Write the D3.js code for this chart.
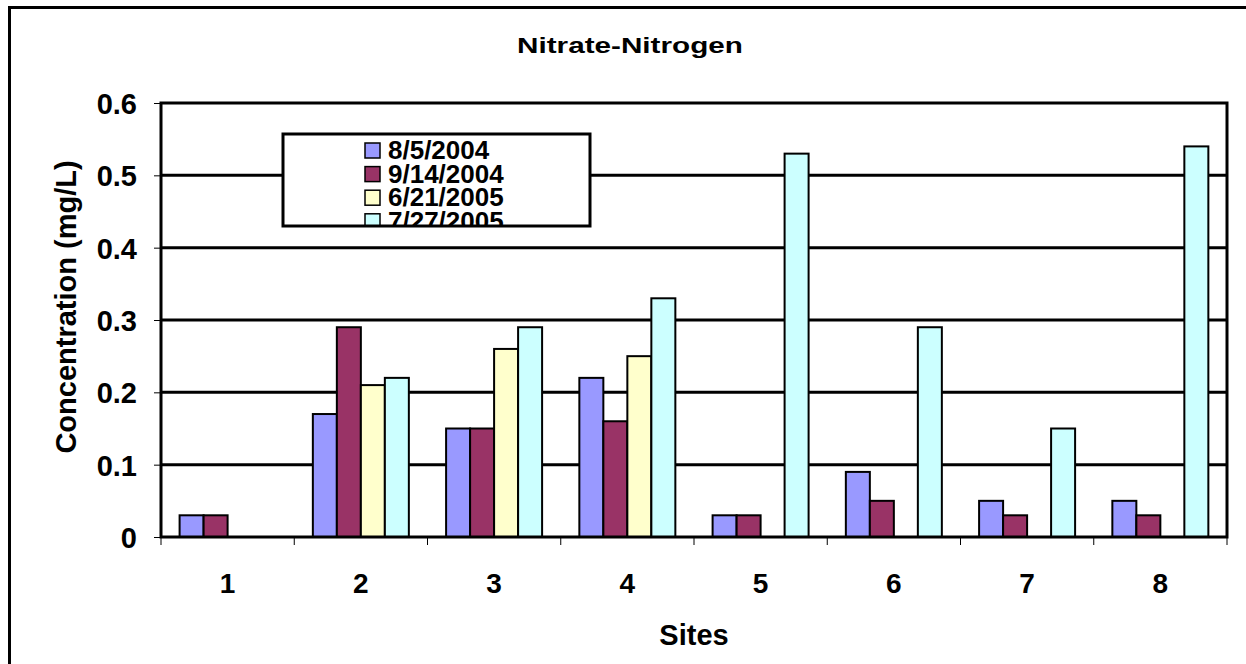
<!DOCTYPE html>
<html><head><meta charset="utf-8">
<script src="https://cdn.jsdelivr.net/npm/d3@7"></script>
<style>body{margin:0;background:#fff}svg{display:block;font-family:Arial,"Liberation Sans",sans-serif}</style>
</head><body>
<script>
const sites = ["1","2","3","4","5","6","7","8"];
const seriesNames = ["8/5/2004","9/14/2004","6/21/2005","7/27/2005"];
const colors = ["#9999FF","#993366","#FFFFCC","#CCFFFF"];
const s1 = [0.03,0.17,0.15,0.22,0.03,0.09,0.05,0.05];
const s2 = [0.03,0.29,0.15,0.16,0.03,0.05,0.03,0.03];
const s3 = [null,0.21,0.26,0.25,null,null,null,null];
const s4 = [null,0.22,0.29,0.33,0.53,0.29,0.15,0.54];
const yTicks = [0,0.1,0.2,0.3,0.4,0.5,0.6];
const series = [s1,s2,s3,s4];

const W=1246,H=664;
const svg=d3.select("body").append("svg").attr("width",W).attr("height",H);
svg.append("rect").attr("x",9.5).attr("y",7.5).attr("width",1250).attr("height",700)
  .attr("fill","none").attr("stroke","#000").attr("stroke-width",3);

const L=161,R=1227,T=103,B=537;
const x=d3.scaleBand().domain(sites).range([L,R]).paddingInner(0).paddingOuter(0);
const inner=d3.scaleBand().domain(d3.range(4)).range([18.6,18.6+96]);
const y=d3.scaleLinear().domain([0,0.6]).range([B,T]);

// gridlines
svg.append("g").selectAll("line").data(yTicks.slice(1,-1)).join("line")
  .attr("x1",L).attr("x2",R).attr("y1",d=>y(d)).attr("y2",d=>y(d))
  .attr("stroke","#000").attr("stroke-width",3);

// bars
series.forEach((s,i)=>{
  svg.append("g").selectAll("rect").data(s.map((v,j)=>({v,site:sites[j]})).filter(d=>d.v!=null)).join("rect")
    .attr("x",d=>x(d.site)+inner(i)).attr("width",inner.bandwidth())
    .attr("y",d=>y(d.v)).attr("height",d=>B-y(d.v))
    .attr("fill",colors[i]).attr("stroke","#000").attr("stroke-width",2);
});

// plot border
svg.append("rect").attr("x",L).attr("y",T).attr("width",R-L).attr("height",B-T)
  .attr("fill","none").attr("stroke","#000").attr("stroke-width",3);

// y axis
const ya=svg.append("g").attr("transform",`translate(${L},0)`)
  .call(d3.axisLeft(y).tickValues(yTicks).tickFormat(d=>d===0?"0":d3.format(".1f")(d)).tickSize(7).tickPadding(17));
ya.select(".domain").remove();
ya.selectAll("line").attr("stroke","#000").attr("stroke-width",1);
ya.selectAll("text").attr("font-size",29).attr("font-weight","bold").attr("fill","#000")
  .attr("font-family","Arial, 'Liberation Sans', sans-serif").attr("dy","0.36em");

// x axis
const xa=svg.append("g").attr("transform",`translate(0,${B})`);
xa.selectAll("line").data(d3.range(9)).join("line")
  .attr("x1",d=>L+d*x.bandwidth()).attr("x2",d=>L+d*x.bandwidth())
  .attr("y1",0).attr("y2",8).attr("stroke","#000").attr("stroke-width",1);
xa.selectAll("text").data(sites).join("text")
  .attr("x",d=>x(d)+x.bandwidth()/2).attr("y",56).attr("text-anchor","middle")
  .attr("font-size",28).attr("font-weight","bold").text(d=>d);

// titles
svg.append("g").attr("transform","translate(630,53) scale(1.32,1)")
  .append("text").attr("text-anchor","middle")
  .attr("font-size",22.5).attr("font-weight","bold").text("Nitrate-Nitrogen");
svg.append("text").attr("x",694).attr("y",645).attr("text-anchor","middle")
  .attr("font-size",29).attr("font-weight","bold").text("Sites");
svg.append("text").attr("transform",`translate(76,307) rotate(-90)`).attr("text-anchor","middle")
  .attr("font-size",29).attr("font-weight","bold").text("Concentration (mg/L)");

// legend
const lg=svg.append("g");
const lx=283,ly=134,lw=307,lh=92;
svg.append("defs").append("clipPath").attr("id","lc").append("rect")
  .attr("x",lx).attr("y",ly).attr("width",lw).attr("height",lh);
lg.append("rect").attr("x",lx).attr("y",ly).attr("width",lw).attr("height",lh).attr("fill","#fff");
const items=lg.append("g").attr("clip-path","url(#lc)");
seriesNames.forEach((n,i)=>{
  const base=159+i*23.6;
  items.append("rect").attr("x",365).attr("y",base-16).attr("width",15).attr("height",15)
    .attr("fill",colors[i]).attr("stroke","#000").attr("stroke-width",1.5);
  items.append("text").attr("x",388).attr("y",base).attr("font-size",26).attr("font-weight","bold").text(n);
});
lg.append("rect").attr("x",lx).attr("y",ly).attr("width",lw).attr("height",lh)
  .attr("fill","none").attr("stroke","#000").attr("stroke-width",3);
</script>
</body></html>
